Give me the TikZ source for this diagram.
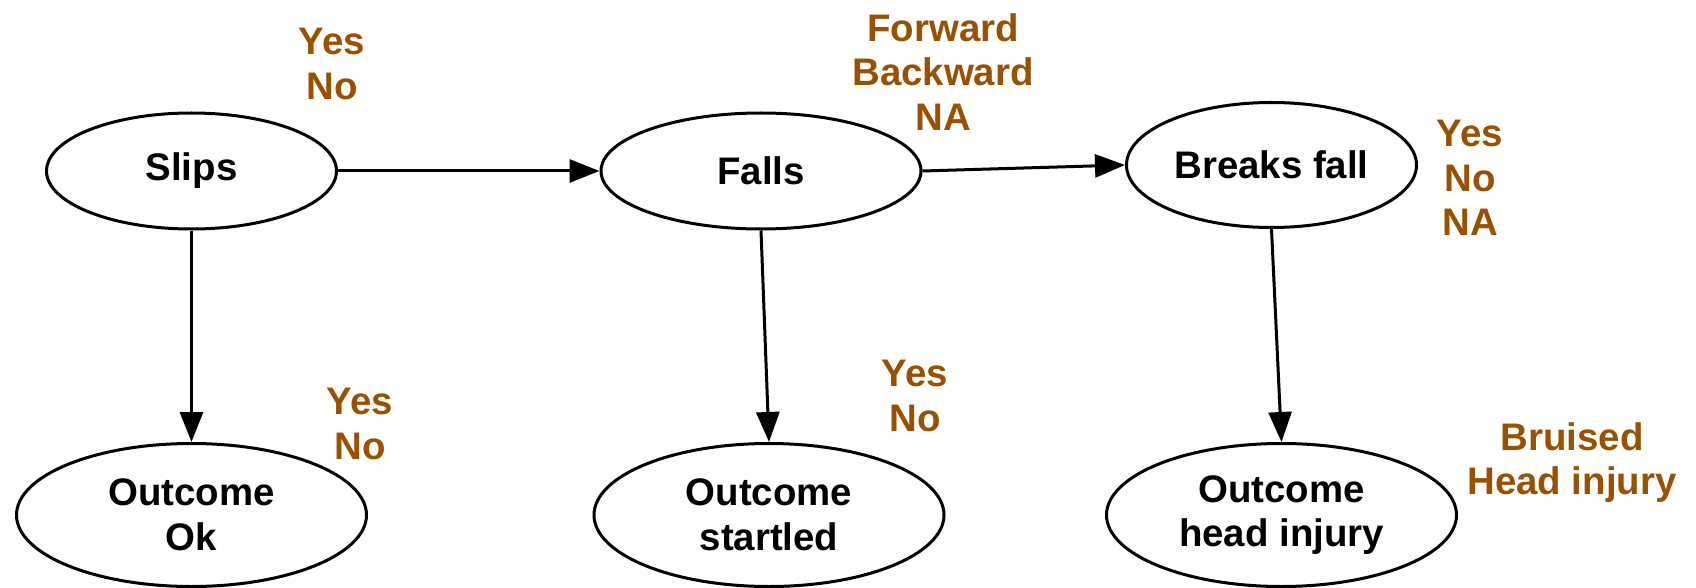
\documentclass[tikz,border=0pt]{standalone}
\usepackage{fontspec}
\setmainfont{Liberation Sans}
\usetikzlibrary{shapes.geometric,arrows.meta}
\definecolor{optbrown}{HTML}{995000}
\begin{document}
\begin{tikzpicture}[x=1pt,y=-1pt,
  every node/.style={font=\fontsize{38.4}{44.5}\selectfont\bfseries},
  event/.style={ellipse,draw,line width=3pt,inner sep=0pt,align=center},
  small/.style={minimum width=290pt,minimum height=116pt},
  outcome/.style={minimum width=350pt,minimum height=143pt},
  options/.style={text=optbrown,align=center,anchor=north,inner sep=0pt},
  link/.style={line width=3pt,-{Triangle[length=30pt,width=23pt]}}]
\useasboundingbox (0,0) rectangle (1696,588);

% events
\node[event,small] (slips) at (191.5,171) {Slips};
\node[event,small,minimum width=320pt] (falls) at (761,171) {Falls};
\node[event,small,minimum height=125pt] (breaks) at (1271.5,165) {Breaks fall};

% outcomes
\node[event,outcome] (ok) at (191.5,515) {Outcome\\Ok};
\node[event,outcome] (startled) at (769,515) {Outcome\\startled};
\node[event,outcome] (headinj) at (1281.5,515) {Outcome\\head injury};

% possible values
\node[options] (slipsopt) at (332,28) {Yes\\No};
\node[options] (fallsopt) at (943,13) {Forward\\Backward\\NA};
\node[options] (breaksopt) at (1470,120) {Yes\\No\\NA};
\node[options] (okopt) at (360,388) {Yes\\No};
\node[options] (startledopt) at (915,360) {Yes\\No};
\node[options] (headinjopt) at (1572,422) {Bruised\\Head injury};

% dependencies
\draw[link] (slips.east) -- (falls.west);
\draw[link] (falls.east) -- (breaks.west);
\draw[link] (slips.south) -- (ok.north);
\draw[link] (falls.south) -- (startled.north);
\draw[link] (breaks.south) -- (headinj.north);
\end{tikzpicture}
\end{document}
